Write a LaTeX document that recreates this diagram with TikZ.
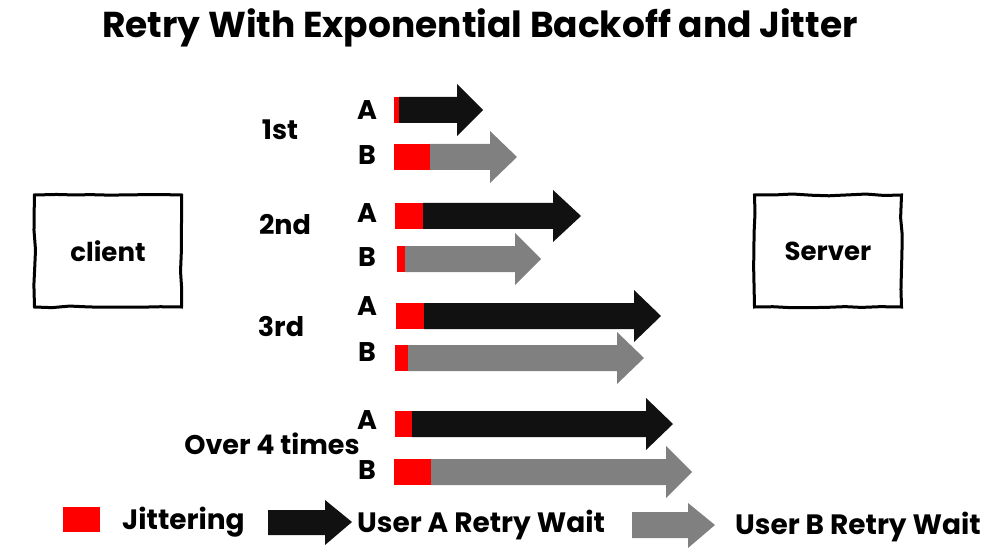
\documentclass[tikz,border=0pt]{standalone}
\usepackage{fontspec}
\setmainfont{Poppins}
\usetikzlibrary{decorations.pathmorphing}
\definecolor{jitred}{HTML}{FF0000}
\definecolor{usera}{HTML}{111111}
\definecolor{userb}{HTML}{808080}
\newcommand{\jarrow}[6]{%
  \fill[jitred] (#2,#1-13) rectangle (#3,#1+13);
  \fill[#6] (#3,#1-13) -- (#4,#1-13) -- (#4,#1-26) -- (#5,#1) -- (#4,#1+26) -- (#4,#1+13) -- (#3,#1+13) -- cycle;
}
\begin{document}
\begin{tikzpicture}[x=1pt,y=-1pt,
  lbl/.style={font=\bfseries\fontsize{27}{29}\selectfont, inner sep=0pt},
  leg/.style={font=\bfseries\fontsize{28}{30}\selectfont, inner sep=0pt, anchor=west},
  boxnode/.style={draw=black, line width=3pt, minimum width=147pt, minimum height=112pt,
     font=\bfseries\fontsize{26}{28}\selectfont, decorate, decoration={random steps, segment length=18pt, amplitude=1pt}},
  ]
\useasboundingbox (0,0) rectangle (1000,553);
\node[font=\bfseries\fontsize{36}{38}\selectfont, inner sep=0pt] (title) at (480,28) {Retry With Exponential Backoff and Jitter};
\node[boxnode] (client) at (108,251) {client};
\node[boxnode] (server) at (828,251) {Server};
% labels
\node[lbl] (l1) at (280,130) {1st};
\node[lbl] (l2) at (285,225) {2nd};
\node[lbl] (l3) at (281,327) {3rd};
\node[lbl] (l4) at (272,444) {Over 4 times};
\foreach \y/\t [count=\i] in {110/A,155/B,213/A,257/B,306/A,352/B,420/A,470/B}{
  \node[lbl] (ab\i) at (367,\y) {\t};
}
% arrows
\jarrow{110}{394}{399}{457}{483}{usera}
\jarrow{157}{394}{430}{490}{517}{userb}
\jarrow{216}{395}{423}{553}{581}{usera}
\jarrow{259}{397}{405}{515}{541}{userb}
\jarrow{316}{396}{424}{634}{661}{usera}
\jarrow{358}{395}{408}{617}{644}{userb}
\jarrow{424}{395}{412}{646}{673}{usera}
\jarrow{472}{394}{431}{666}{692}{userb}
% legend
\fill[jitred] (63,507) rectangle (100,532);
\node[leg] (leg1) at (122,522) {Jittering};
\fill[usera] (268,510) -- (325,510) -- (325,500) -- (352,522) -- (325,545) -- (325,535) -- (268,535) -- cycle;
\node[leg] (leg2) at (357,525) {User A Retry Wait};
\fill[userb] (632,512) -- (688,512) -- (688,503) -- (715,525) -- (688,548) -- (688,538) -- (632,538) -- cycle;
\node[leg] (leg3) at (735,527) {User B Retry Wait};
\end{tikzpicture}
\end{document}
